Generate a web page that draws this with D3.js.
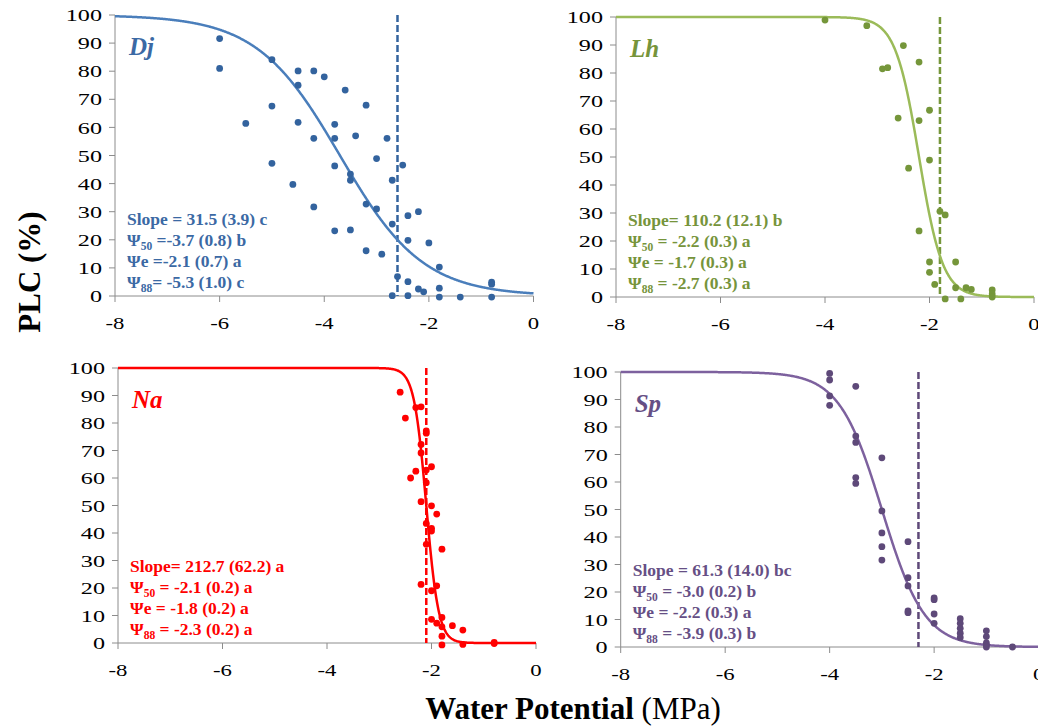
<!DOCTYPE html>
<html>
<head>
<meta charset="utf-8">
<script src="https://cdn.jsdelivr.net/npm/d3@7"></script>
<style>
  html, body { margin: 0; padding: 0; background: #fff; }
  svg { display: block; }
  text { font-family: "Liberation Serif", "Times New Roman", serif; }
</style>
</head>
<body>
<svg id="chart" width="1038" height="726"></svg>
<script>
// Observed PLC (%) against water potential (MPa) for each species
const djPsi = [-6,-6,-5,-4.5,-4.2,-4.0,-4.5,-3.6,-5,-3.2,-5.5,-4.5,-3.8,-4.2,-3.8,-3.4,-2.8,-3.0,-5,-3.8,-2.5,-3.5,-3.5,-2.7,-4.6,-4.2,-3.2,-3.0,-2.2,-2.4,-2.7,-3.8,-3.5,-2.4,-2.0,-3.2,-2.9,-1.8,-2.6,-2.4,-2.2,-2.1,-1.8,-0.8,-0.8,-2.7,-2.4,-1.8,-1.4,-0.8];
const djPlc = [91.6,81.0,84.1,80.1,80.1,78.0,75.0,73.3,67.6,67.9,61.4,61.8,61.1,56.1,56.1,57.0,56.1,48.9,47.2,46.3,46.6,43.4,41.2,41.2,39.7,31.7,32.7,31.0,30.0,28.6,25.6,23.2,23.5,19.8,18.9,16.1,14.9,10.3,6.9,5.1,2.5,1.5,2.8,4.9,4.2,0.1,0.1,-0.4,-0.4,-0.4];

const lhPsi = [-4.0,-3.2,-2.5,-2.2,-2.9,-2.8,-2.0,-2.6,-2.2,-2.0,-2.4,-1.8,-1.7,-2.2,-2.0,-1.5,-2.0,-1.9,-1.5,-1.3,-1.2,-0.8,-0.8,-0.8,-1.7,-1.4];
const lhPlc = [98.9,96.9,89.8,83.9,81.5,81.9,66.7,63.9,63.0,48.9,46.0,30.6,29.3,23.6,12.5,12.5,8.8,4.5,3.3,3.3,2.7,2.5,1.1,0,-0.7,-0.7];

const naPsi = [-2.6,-2.5,-2.3,-2.2,-2.1,-2.1,-2.2,-2.2,-2.0,-2.3,-2.1,-2.4,-2.1,-2.2,-2.0,-1.9,-2.1,-2.0,-2.0,-2.1,-1.8,-2.2,-1.9,-2.0,-2.0,-1.9,-1.8,-1.8,-1.6,-1.4,-1.8,-1.8,-1.4,-0.8,-0.8];
const naPlc = [91.2,81.8,85.6,85.9,77.1,76.3,72.2,69.1,64.1,62.5,62.9,60.0,58.3,51.4,49.9,46.9,43.5,41.7,40.7,35.9,34.1,21.3,20.8,19.0,8.6,7.2,9.3,5.9,6.3,4.7,2.5,-0.7,-0.5,0.2,-0.2];

const spPsi = [-4,-4,-4,-4,-3.5,-3.5,-3.5,-3.5,-3.5,-3,-3,-3,-3,-3,-2.5,-2.5,-2.5,-2.5,-2.5,-2,-2,-2,-2,-1.5,-1.5,-1.5,-1.5,-1.5,-1,-1,-1,-1,-1,-0.5];
const spPlc = [99.5,97.1,91.3,87.9,94.8,76.7,74.4,61.6,59.5,68.8,49.5,41.5,36.5,31.6,38.3,25.2,22.2,13.1,12.5,17.9,17.2,12.0,8.6,10.3,8.6,6.8,5.0,3.5,5.9,3.8,1.5,0.7,0,0];

// Fitted vulnerability-curve parameters (slope, Ψ50) and the dashed reference potential
const species   = ["Dj", "Lh", "Na", "Sp"];
const slopes    = [31.5, 110.2, 212.7, 61.3];
const psi50s    = [-3.7, -2.2, -2.1, -3.0];
const dashPsi   = [-2.6, -1.8, -2.1, -2.3];

// Parameter summaries printed in each panel: [prefix, subscript, remainder]
const djNotes = [["Slope = 31.5 (3.9) c", "", ""], ["Ψ", "50", " =-3.7 (0.8) b"], ["Ψe =-2.1 (0.7) a", "", ""], ["Ψ", "88", "= -5.3 (1.0) c"]];
const lhNotes = [["Slope= 110.2 (12.1) b", "", ""], ["Ψ", "50", " = -2.2 (0.3) a"], ["Ψe = -1.7 (0.3) a", "", ""], ["Ψ", "88", " = -2.7 (0.3) a"]];
const naNotes = [["Slope= 212.7 (62.2) a", "", ""], ["Ψ", "50", " = -2.1 (0.2) a"], ["Ψe = -1.8 (0.2) a", "", ""], ["Ψ", "88", " = -2.3 (0.2) a"]];
const spNotes = [["Slope = 61.3 (14.0) bc", "", ""], ["Ψ", "50", " = -3.0 (0.2) b"], ["Ψe = -2.2 (0.3) a", "", ""], ["Ψ", "88", " = -3.9 (0.3) b"]];

const xTicks = [-8, -6, -4, -2, 0];
const yTicks = [0, 10, 20, 30, 40, 50, 60, 70, 80, 90, 100];

// Panel layout and styling
const panels = [
  { psi: djPsi, plc: djPlc, notes: djNotes, left: 115, right: 533.5, top: 15, bottom: 296,
    point: "#33639e", curve: "#4a7ebb", text: "#3b69a4" },
  { psi: lhPsi, plc: lhPlc, notes: lhNotes, left: 616, right: 1034, top: 17, bottom: 297,
    point: "#75963a", curve: "#9bbb59", text: "#76943b" },
  { psi: naPsi, plc: naPlc, notes: naNotes, left: 118, right: 536, top: 368, bottom: 643,
    point: "#ff0000", curve: "#ff0000", text: "#ff0000" },
  { psi: spPsi, plc: spPlc, notes: spNotes, left: 620.7, right: 1038.6, top: 372, bottom: 647,
    point: "#5e4979", curve: "#7d619e", text: "#664f85" }
];

const svg = d3.select("#chart");
const axisColor = "#8c8c8c";

// Pammenter & Vander Willigen sigmoid
const plcModel = (psi, slope, p50) => 100 / (1 + Math.exp(slope / 25 * (psi - p50)));

panels.forEach((p, i) => {
  const x = d3.scaleLinear().domain([-8, 0]).range([p.left, p.right]);
  const y = d3.scaleLinear().domain([0, 100]).range([p.bottom, p.top]);
  const g = svg.append("g");

  // axes
  g.append("line").attr("x1", x(-8)).attr("x2", x(0)).attr("y1", y(0)).attr("y2", y(0))
    .attr("stroke", axisColor).attr("stroke-width", 1);
  g.append("line").attr("x1", x(-8)).attr("x2", x(-8)).attr("y1", y(0)).attr("y2", y(100))
    .attr("stroke", axisColor).attr("stroke-width", 1);

  g.selectAll(".yt").data(yTicks).enter().append("line")
    .attr("x1", x(-8) - 6).attr("x2", x(-8)).attr("y1", d => y(d)).attr("y2", d => y(d))
    .attr("stroke", axisColor);
  g.selectAll(".xt").data(xTicks).enter().append("line")
    .attr("x1", d => x(d)).attr("x2", d => x(d)).attr("y1", y(0)).attr("y2", y(0) + 6)
    .attr("stroke", axisColor);

  g.selectAll(".yl").data(yTicks).enter().append("text")
    .attr("transform", d => `translate(${x(-8) - 13},${y(d)}) scale(1.38,1)`)
    .attr("text-anchor", "end").attr("dy", "0.35em")
    .attr("font-size", 17.5).attr("fill", "#000").text(d => d);
  g.selectAll(".xl").data(xTicks).enter().append("text")
    .attr("transform", d => `translate(${x(d)},${y(0) + 27}) scale(1.3,1)`)
    .attr("text-anchor", "middle").attr("dy", "0.35em")
    .attr("font-size", 17.5).attr("fill", "#000").text(d => d);

  // dashed reference line
  g.append("line").attr("x1", x(dashPsi[i])).attr("x2", x(dashPsi[i]))
    .attr("y1", y(100)).attr("y2", y(0))
    .attr("stroke", p.point).attr("stroke-width", 2.5).attr("stroke-dasharray", "7,3");

  // fitted curve
  const grid = d3.range(-8, 0.0001, 0.01);
  const line = d3.line().x(d => x(d)).y(d => y(plcModel(d, slopes[i], psi50s[i])));
  g.append("path").datum(grid).attr("d", line).attr("fill", "none")
    .attr("stroke", p.curve).attr("stroke-width", 2.5);

  // observations
  g.selectAll(".pt").data(p.psi.map((v, k) => [v, p.plc[k]])).enter().append("circle")
    .attr("cx", d => x(d[0])).attr("cy", d => y(d[1])).attr("r", 3.4).attr("fill", p.point);

  // species name
  g.append("text").attr("x", x(-8) + 14).attr("y", y(100) + 40)
    .attr("font-size", 25).attr("font-weight", "bold").attr("font-style", "italic")
    .attr("fill", p.text).text(species[i]);

  // parameter summary
  p.notes.forEach((n, k) => {
    const t = g.append("text").attr("x", x(-8) + 12).attr("y", y(0) - 71 + k * 21)
      .attr("font-size", 17.5).attr("font-weight", "bold").attr("fill", p.text);
    t.append("tspan").text(n[0]);
    if (n[1]) {
      t.append("tspan").attr("font-size", 11.5).attr("dy", 4).text(n[1]);
      t.append("tspan").attr("dy", -4).text(n[2]);
    }
  });
});

// shared axis titles
svg.append("text").attr("transform", "translate(40,272) rotate(-90)")
  .attr("text-anchor", "middle").attr("font-size", 31).attr("font-weight", "bold")
  .text("PLC (%)");

const xt = svg.append("text").attr("x", 573).attr("y", 719).attr("text-anchor", "middle")
  .attr("font-size", 31);
xt.append("tspan").attr("font-weight", "bold").text("Water Potential ");
xt.append("tspan").text("(MPa)");
</script>
</body>
</html>
